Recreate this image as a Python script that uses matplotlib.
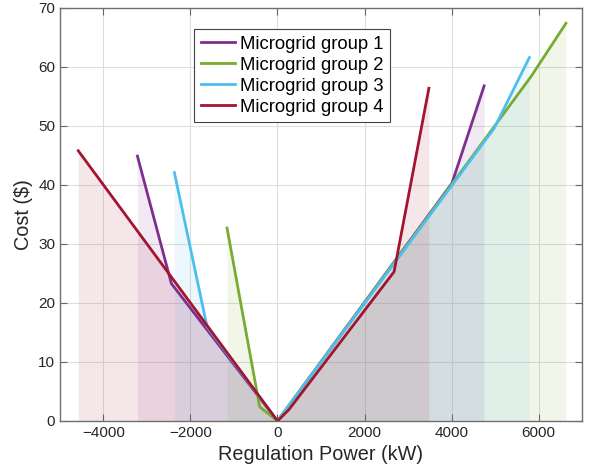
import matplotlib.pyplot as plt

plt.rcParams['font.family'] = ['Liberation Sans', 'DejaVu Sans']

# cost curves (power kW, cost $) for each microgrid group
p1 = [-3220, -2440, 0, 4010, 4750]
c1 = [44.9, 23.3, 0, 40.3, 56.8]
p2 = [-1160, -410, 0, 5830, 6630]
c2 = [32.7, 2.4, 0, 58.4, 67.4]
p3 = [-2370, -1620, 0, 4980, 5790]
c3 = [42.1, 16.0, 0, 49.6, 61.6]
p4 = [-4580, 0, 260, 2680, 3480]
c4 = [45.8, 0, 1.9, 25.3, 56.4]

nomes = ['Microgrid group 1', 'Microgrid group 2', 'Microgrid group 3', 'Microgrid group 4']
cores = ['#7e2f8e', '#77ac30', '#4dbeee', '#a2142f']

fig = plt.figure(figsize=(5.91, 4.70), dpi=100)
ax = fig.add_axes([0.1015, 0.1043, 0.8833, 0.8787])

grupos = [(p1, c1), (p2, c2), (p3, c3), (p4, c4)]
for (p, c), cor in zip(grupos, cores):
    ax.fill_between(p, c, 0, color=cor, alpha=0.1, linewidth=0)
for (p, c), cor, nome in zip(grupos, cores, nomes):
    ax.plot(p, c, color=cor, linewidth=2, label=nome)

ax.set_xlim(-5000, 7000)
ax.set_ylim(0, 70)
ax.set_xticks([-4000, -2000, 0, 2000, 4000, 6000])
ax.set_yticks(range(0, 71, 10))
ax.grid(True, color='#dedede', linewidth=0.8)
ax.set_axisbelow(True)
ax.tick_params(direction='in', top=True, right=True, labelsize=11,
               color='#666666', length=5, labelcolor='#262626')
for s in ax.spines.values():
    s.set_color('#6f6f6f')
    s.set_linewidth(1)

ax.set_xlabel('Regulation Power (kW)', fontsize=14.3, color='#262626')
ax.set_ylabel('Cost ($)', fontsize=14.3, color='#262626')

leg = ax.legend(loc='upper left', bbox_to_anchor=(0.257, 0.949), fontsize=13.3,
                fancybox=False, framealpha=1, edgecolor='#444444',
                handlelength=1.85, borderpad=0.35, labelspacing=0.22,
                handletextpad=0.3, borderaxespad=0)
leg.get_frame().set_linewidth(0.8)

fig.savefig('out.png', dpi=100)
